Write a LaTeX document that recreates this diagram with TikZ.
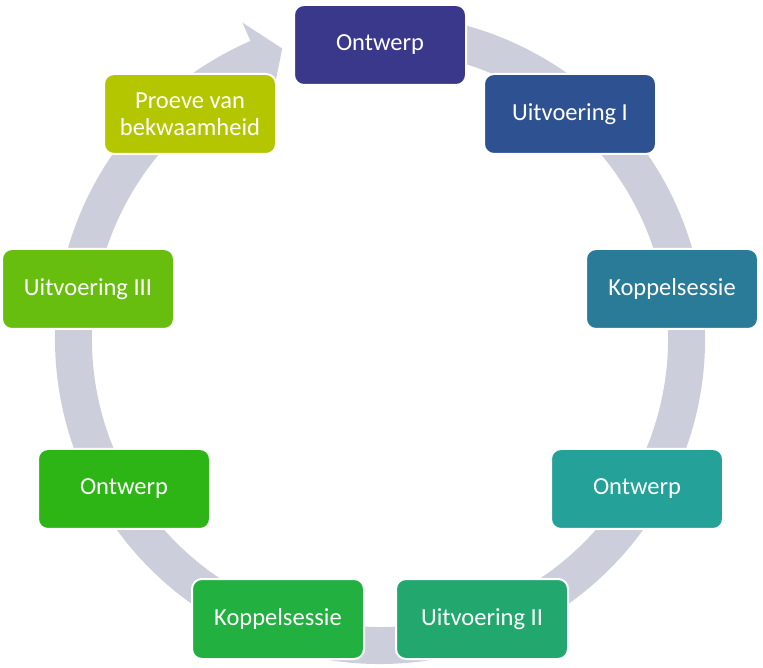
\documentclass[tikz,border=0pt]{standalone}
\usepackage{fontspec}
\setmainfont{Carlito}
\definecolor{ringc}{RGB}{205,206,220}
\definecolor{cA}{RGB}{58,56,138}
\definecolor{cB}{RGB}{46,81,145}
\definecolor{cC}{RGB}{42,123,152}
\definecolor{cD}{RGB}{36,161,152}
\definecolor{cE}{RGB}{34,168,110}
\definecolor{cF}{RGB}{34,176,64}
\definecolor{cG}{RGB}{45,181,22}
\definecolor{cH}{RGB}{103,190,14}
\definecolor{cI}{RGB}{180,198,0}
\tikzset{
  stagebox/.style={draw=white, line width=2pt, rounded corners=10pt, minimum width=172pt, minimum height=80pt,
    text=white, align=center, inner sep=2pt, font=\fontsize{24.5}{27}\selectfont},
}
\begin{document}
\begin{tikzpicture}[x=1pt,y=1pt]
\useasboundingbox (0,0) rectangle (763,667);
\coordinate (c) at (380,328);
% ring arrow
\fill[ringc] ([shift={(c)}]98:325pt) arc[start angle=98, end angle=-246.5, radius=325pt]
  -- ([shift={(c)}]-246.5:345pt) -- ([shift={(c)}]108.6:306.5pt) -- ([shift={(c)}]-246.5:268pt)
  -- ([shift={(c)}]-246.5:288pt)
  arc[start angle=-246.5, end angle=98, radius=288pt] -- cycle;
% stages
\node[stagebox, fill=cA] (o1) at (380,622) {Ontwerp};
\node[stagebox, fill=cB] (u1) at (570,553) {Uitvoering I};
\node[stagebox, fill=cC] (k1) at (672,378) {Koppelsessie};
\node[stagebox, fill=cD] (o2) at (637,178) {Ontwerp};
\node[stagebox, fill=cE] (u2) at (482,48) {Uitvoering II};
\node[stagebox, fill=cF] (k2) at (278,48) {Koppelsessie};
\node[stagebox, fill=cG] (o3) at (124,178) {Ontwerp};
\node[stagebox, fill=cH] (u3) at (88,378) {Uitvoering III};
\node[stagebox, fill=cI] (p) at (190,553) {Proeve van\\bekwaamheid};
\end{tikzpicture}
\end{document}
